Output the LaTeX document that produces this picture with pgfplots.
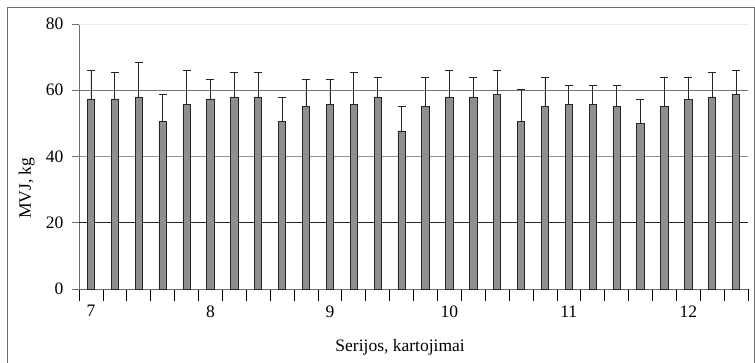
\documentclass[border=0pt]{standalone}
\usepackage{fontspec}
\setmainfont{Liberation Serif}
\usepackage{pgfplots}
\pgfplotsset{compat=1.18}
\definecolor{barfill}{RGB}{142,143,147}
\definecolor{axgray}{RGB}{110,110,110}
\begin{document}
\begin{tikzpicture}[x=1pt,y=1pt]
\useasboundingbox (0,0) rectangle (755,362);
\draw[axgray,line width=0.8pt] (7,-5) -- (7,355) -- (754,355) -- (754,-5);
\begin{axis}[
  at={(79pt,73pt)}, anchor=south west,
  width=669pt, height=265pt, scale only axis,
  xmin=-0.5, xmax=27.5, ymin=0, ymax=80,
  axis x line*=bottom, axis y line*=left,
  axis line style={axgray, line width=0.8pt},
  xtick={0,5,10,15,20,25},
  xticklabels={7,8,9,10,11,12},
  minor xtick={-0.5,0.5,...,27.5},
  major x tick style={draw=none},
  minor x tick style={black, line width=0.7pt},
  minor tick length=12pt,
  tick align=outside,
  ytick={0,20,40,60,80},
  major tick length=7pt,
  ytick style={axgray, line width=0.8pt},
  xticklabel style={yshift=-6pt},
  yticklabel style={xshift=-5pt},
  tick label style={font=\fontsize{17.5}{19}\selectfont},
  /pgf/number format/assume math mode=true,
  xlabel={Serijos, kartojimai},
  xlabel style={font=\fontsize{17.5}{19}\selectfont, at={(axis description cs:0.48,-0.22)}, anchor=center},
  ylabel={},
  clip=false,
]
\draw[black!85, line width=0.8pt] (axis cs:-0.5,20) -- (axis cs:27.5,20);
\draw[gray!85, line width=0.8pt] (axis cs:-0.5,40) -- (axis cs:27.5,40);
\draw[gray!90!black, line width=0.8pt] (axis cs:-0.5,60) -- (axis cs:27.5,60);
\draw[gray!15, line width=0.8pt] (axis cs:-0.5,80) -- (axis cs:27.5,80);
\node[font=\fontsize{17.5}{19}\selectfont, rotate=90, anchor=center] at (axis description cs:-0.078,0.38) {MVJ, kg};
\addplot[ybar, bar width=7.3pt, fill=barfill, draw=black!85, line width=0.7pt,
  error bars/.cd, y dir=plus, y explicit,
  error bar style={black!85, line width=0.7pt},
  error mark options={rotate=90, black!85, line width=0.7pt, mark size=4pt}]
coordinates {
(0,57.4) +- (0,8.6)
(1,57.4) +- (0,8.0)
(2,58.0) +- (0,10.4)
(3,50.6) +- (0,8.1)
(4,55.8) +- (0,10.2)
(5,57.4) +- (0,5.8)
(6,58.0) +- (0,7.4)
(7,58.0) +- (0,7.4)
(8,50.6) +- (0,7.4)
(9,55.1) +- (0,8.1)
(10,55.8) +- (0,7.4)
(11,55.8) +- (0,9.6)
(12,58.0) +- (0,5.9)
(13,47.7) +- (0,7.4)
(14,55.1) +- (0,8.8)
(15,58.0) +- (0,8.0)
(16,58.0) +- (0,5.9)
(17,58.7) +- (0,7.3)
(18,50.6) +- (0,9.6)
(19,55.1) +- (0,8.8)
(20,55.8) +- (0,5.8)
(21,55.8) +- (0,5.8)
(22,55.1) +- (0,6.5)
(23,49.9) +- (0,7.4)
(24,55.1) +- (0,8.8)
(25,57.3) +- (0,6.6)
(26,58.0) +- (0,7.4)
(27,58.7) +- (0,7.3)
};
\end{axis}
\end{tikzpicture}
\end{document}
